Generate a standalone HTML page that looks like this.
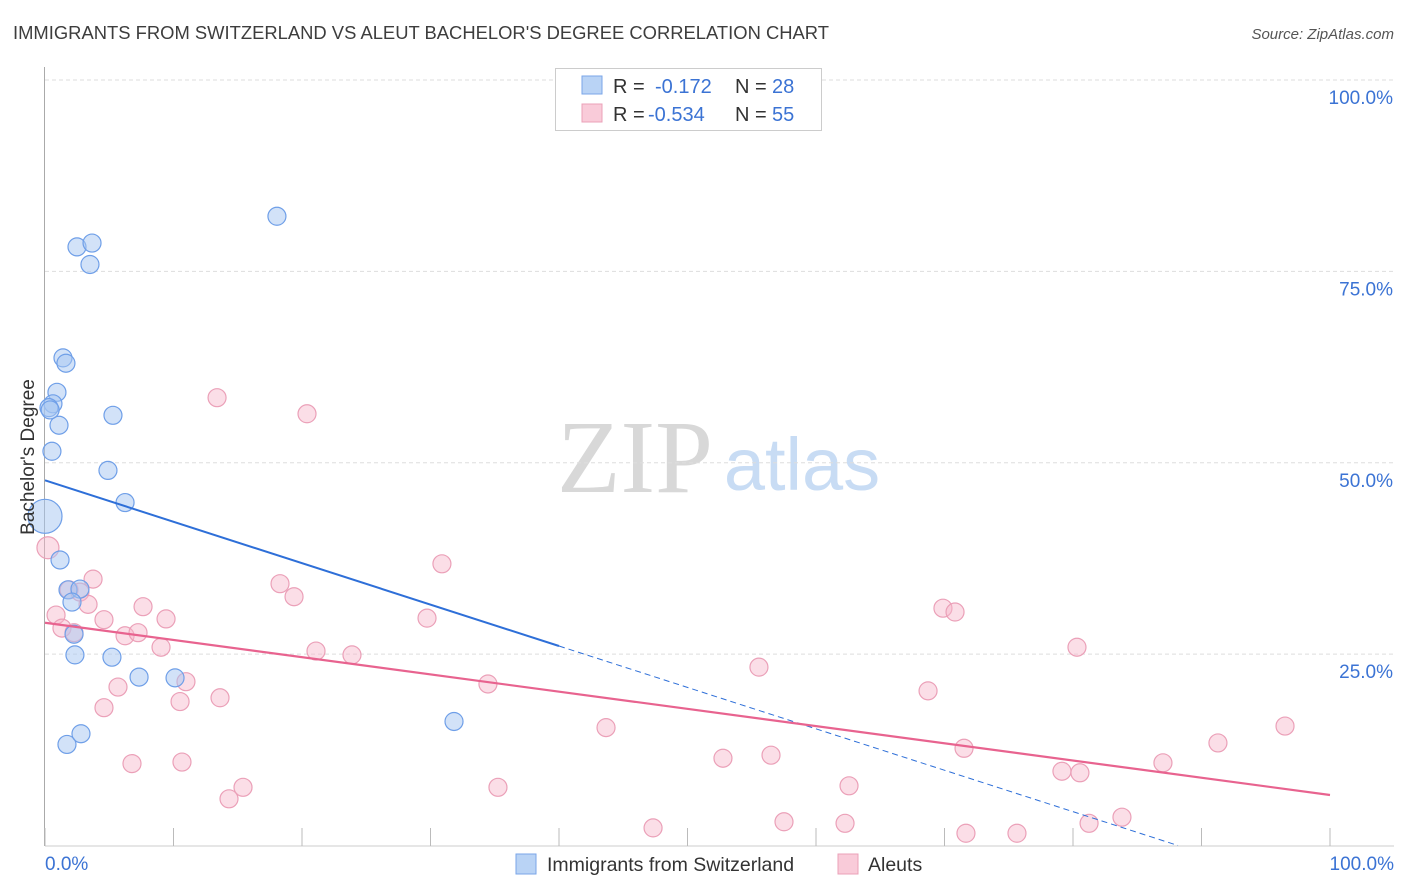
<!DOCTYPE html>
<html><head><meta charset="utf-8"><style>
body{margin:0;background:#fff;font-family:"Liberation Sans",sans-serif}
svg{display:block}
</style></head><body>
<svg id="c" width="1406" height="892">
<text x="13" y="39" font-size="18" fill="#3d3d3d" textLength="816" lengthAdjust="spacingAndGlyphs">IMMIGRANTS FROM SWITZERLAND VS ALEUT BACHELOR'S DEGREE CORRELATION CHART</text>
<text x="1394" y="39" font-size="15" fill="#555" font-style="italic" text-anchor="end">Source: ZipAtlas.com</text>
<g>
<text x="635" y="492" font-size="104" fill="#d8d8d8" font-family="Liberation Serif,serif" text-anchor="middle">ZIP</text>
<text x="802" y="490" font-size="74" fill="#c8dcf4" text-anchor="middle">atlas</text>
</g>
<g id="grid"></g>
<g id="axes"></g>
<g id="pts"></g>
<g id="lines"></g>
<text transform="translate(34,457) rotate(-90)" font-size="19" fill="#333" text-anchor="middle">Bachelor's Degree</text>
<g>
<rect x="555.5" y="68.5" width="266" height="62" fill="#fff" stroke="#ccc"/>
<rect x="582" y="76" width="20" height="18" fill="#b9d3f5" stroke="#7aa6e8"/>
<rect x="582" y="104" width="20" height="18" fill="#f9cbd9" stroke="#eba0b8"/>
<text y="93" font-size="20" fill="#333"><tspan x="613">R =</tspan><tspan x="655" fill="#3b73d4">-0.172</tspan><tspan x="735">N =</tspan><tspan x="772" fill="#3b73d4">28</tspan></text>
<text y="121" font-size="20" fill="#333"><tspan x="613">R =</tspan><tspan x="648" fill="#3b73d4">-0.534</tspan><tspan x="735">N =</tspan><tspan x="772" fill="#3b73d4">55</tspan></text>
</g>
<g>
<rect x="516" y="854" width="20" height="20" fill="#b9d3f5" stroke="#7aa6e8"/>
<text x="547" y="871" font-size="19.5" fill="#333">Immigrants from Switzerland</text>
<rect x="838" y="854" width="20" height="20" fill="#f9cbd9" stroke="#eba0b8"/>
<text x="868" y="871" font-size="19.5" fill="#333">Aleuts</text>
</g>
</svg>
<script>
const yTicks=[25,50,75,100];
const yTickLabels=["25.0%","50.0%","75.0%","100.0%"];
const xTicks=[0,10,20,30,40,50,60,70,80,90,100];
const blueX=[18.05,2.49,3.66,3.5,1.4,1.63,0.93,0.62,0.31,1.09,5.29,0.54,4.9,6.23,0,1.17,1.79,2.72,2.1,2.26,2.33,5.21,7.32,10.12,31.83,1.71,2.8,0.4];
const blueY=[82.2,78.2,78.7,75.9,63.7,63.0,59.2,57.7,57.2,54.9,56.2,51.5,49.0,44.8,43.0,37.3,33.4,33.5,31.8,27.6,24.9,24.6,22.0,21.9,16.2,13.2,14.6,56.9];
const pinkX=[0.23,0.86,1.32,1.87,3.74,2.72,3.35,4.59,6.23,7.24,7.63,9.42,9.03,10.97,10.51,13.62,4.59,5.68,6.77,10.66,14.32,15.41,13.39,20.39,18.29,19.38,21.09,23.89,30.89,29.73,34.47,43.66,35.25,47.32,52.76,56.5,57.51,55.56,62.26,62.57,69.88,70.82,68.72,71.52,71.67,75.64,80.31,79.14,80.54,81.25,83.81,87.0,91.28,96.5,2.26];
const pinkY=[38.9,30.1,28.4,33.4,34.8,33.1,31.5,29.5,27.4,27.8,31.2,29.6,25.9,21.4,18.8,19.3,18.0,20.7,10.7,10.9,6.1,7.6,58.5,56.4,34.2,32.5,25.4,24.9,36.8,29.7,21.1,15.4,7.6,2.3,11.4,11.8,3.1,23.3,2.9,7.8,31.0,30.5,20.2,12.7,1.6,1.6,25.9,9.7,9.5,2.9,3.7,10.8,13.4,15.6,27.8];
const blueTrend=[47.7,-0.541];
const pinkTrend=[29.1,-0.225];
const NS="http://www.w3.org/2000/svg";
const X=v=>45+12.85*v, Y=v=>845.5-7.655*v;
function mk(t,a,p){const e=document.createElementNS(NS,t);for(const k in a)e.setAttribute(k,a[k]);p.appendChild(e);return e;}
const g=document.getElementById('grid'),ax=document.getElementById('axes'),pts=document.getElementById('pts'),ln=document.getElementById('lines');
yTicks.forEach((t,i)=>{
 const l=mk('line',{x1:45,x2:1394,y1:Y(t),y2:Y(t),stroke:'#ddd','stroke-dasharray':'4 3'},g);
 
 
 const tx=mk('text',{x:1393,y:Y(t)+24,'font-size':19,fill:'#3b73d4','text-anchor':'end'},g);
 tx.textContent=yTickLabels[i];
 
 
});
mk('line',{x1:44.5,x2:44.5,y1:67,y2:846,stroke:'#aaa'},ax);
mk('line',{x1:45,x2:1394,y1:846,y2:846,stroke:'#ccc'},ax);
xTicks.forEach(t=>{const l=mk('line',{x1:X(t),x2:X(t),y1:828,y2:846,stroke:'#bbb'},ax);
 
 });
let t0=mk('text',{x:45,y:870,'font-size':19,fill:'#3b73d4'},ax);t0.textContent='0.0%';


let t1=mk('text',{x:1394,y:870,'font-size':19,fill:'#3b73d4','text-anchor':'end'},ax);t1.textContent='100.0%';


pinkX.forEach((x,i)=>{const c=mk('circle',{cx:X(x),cy:Y(pinkY[i]),r:i==0?11:9,fill:'rgba(246,182,202,0.45)',stroke:'#eba0b8','stroke-width':1.2},pts);
 
 });
blueX.forEach((x,i)=>{const c=mk('circle',{cx:X(x),cy:Y(blueY[i]),r:i==14?17:9,fill:'rgba(165,198,242,0.5)',stroke:'#6f9fe8','stroke-width':1.2},pts);
 
 });
const bEnd=-blueTrend[0]/blueTrend[1];
let b1=mk('line',{x1:X(0),y1:Y(blueTrend[0]),x2:X(40),y2:Y(blueTrend[0]+blueTrend[1]*40),stroke:'#2e6fd8','stroke-width':2},ln);


let b2=mk('line',{x1:X(40),y1:Y(blueTrend[0]+blueTrend[1]*40),x2:X(bEnd),y2:Y(0),stroke:'#2e6fd8','stroke-width':1,'stroke-dasharray':'6 4'},ln);


let p1=mk('line',{x1:X(0),y1:Y(pinkTrend[0]),x2:X(100),y2:Y(pinkTrend[0]+pinkTrend[1]*100),stroke:'#e8638f','stroke-width':2.2},ln);


</script>
</body></html>
